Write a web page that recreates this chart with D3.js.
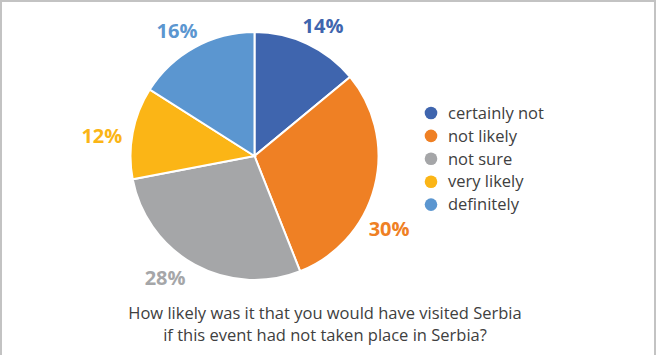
<!DOCTYPE html>
<html>
<head>
<meta charset="utf-8">
<title>Visit Serbia pie</title>
<script src="https://cdnjs.cloudflare.com/ajax/libs/d3/7.8.5/d3.min.js"></script>
<style>
  body { margin: 0; background: #fff; }
  svg text { font-family: "Open Sans", "Noto Sans", sans-serif; }
  .frame { fill: none; stroke: #c3c3c3; stroke-width: 2; }
  .slice { stroke: #fff; stroke-width: 2; }
  .pct { font-weight: bold; font-size: 20px; }
  .legend text { font-size: 16.5px; fill: #404040; }
  .title { font-size: 16.5px; fill: #404040; }
</style>
</head>
<body>
<script>
var categories = ["certainly not", "not likely", "not sure", "very likely", "definitely"];
var values = [14, 30, 28, 12, 16];
var colors = ["#3f65ae", "#ef8024", "#a5a6a8", "#fbb516", "#5b96d0"];
var titleLines = ["How likely was it that you would have visited Serbia",
                  "if this event had not taken place in Serbia?"];

var w = 656, h = 355;
var cx = 254.5, cy = 156, r = 124;

// the labels were nudged by hand in the original: degrees off the slice middle, and distance from centre
var labelTurn = [2.6, 14, 7.5, -3.3, -3];
var labelDist = [147, 153, 151, 154, 147];

var svg = d3.select("body").append("svg")
    .attr("width", w)
    .attr("height", h);

// frame, open at the bottom
svg.append("path")
    .attr("class", "frame")
    .attr("d", "M1," + h + "V1H" + (w - 1) + "V" + h);

var data = categories.map(function(c, i) {
    return { name: c, value: values[i], color: colors[i] };
});

var pie = d3.pie()
    .sort(null)
    .value(function(d) { return d.value; });

var arcs = pie(data);

var arc = d3.arc().innerRadius(0).outerRadius(r);

var g = svg.append("g")
    .attr("transform", "translate(" + cx + "," + cy + ")");

g.selectAll("path.slice")
    .data(arcs)
    .enter().append("path")
    .attr("class", "slice")
    .attr("fill", function(d) { return d.data.color; })
    .attr("d", arc);

g.selectAll("text.pct")
    .data(arcs)
    .enter().append("text")
    .attr("class", "pct")
    .attr("text-anchor", "middle")
    .attr("dy", "0.36em")
    .attr("fill", function(d) { return d.data.color; })
    .attr("transform", function(d, i) {
        var a = (d.startAngle + d.endAngle) / 2 + labelTurn[i] * Math.PI / 180;
        var p = d3.pointRadial(a, labelDist[i]);
        return "translate(" + p + ")";
    })
    .text(function(d) { return d.data.value + "%"; });

// legend
var legend = svg.append("g")
    .attr("class", "legend")
    .attr("transform", "translate(431,113)");

var item = legend.selectAll("g")
    .data(data)
    .enter().append("g")
    .attr("transform", function(d, i) { return "translate(0," + i * 22.9 + ")"; });

item.append("circle")
    .attr("r", 6.3)
    .attr("fill", function(d) { return d.color; });

item.append("text")
    .attr("x", 17)
    .attr("dy", "0.35em")
    .text(function(d) { return d.name; });

svg.append("text")
    .attr("class", "title")
    .attr("text-anchor", "middle")
    .selectAll("tspan")
    .data(titleLines)
    .enter().append("tspan")
    .attr("x", 325)
    .attr("y", function(d, i) { return 319 + i * 22; })
    .text(function(d) { return d; });
</script>
</body>
</html>
